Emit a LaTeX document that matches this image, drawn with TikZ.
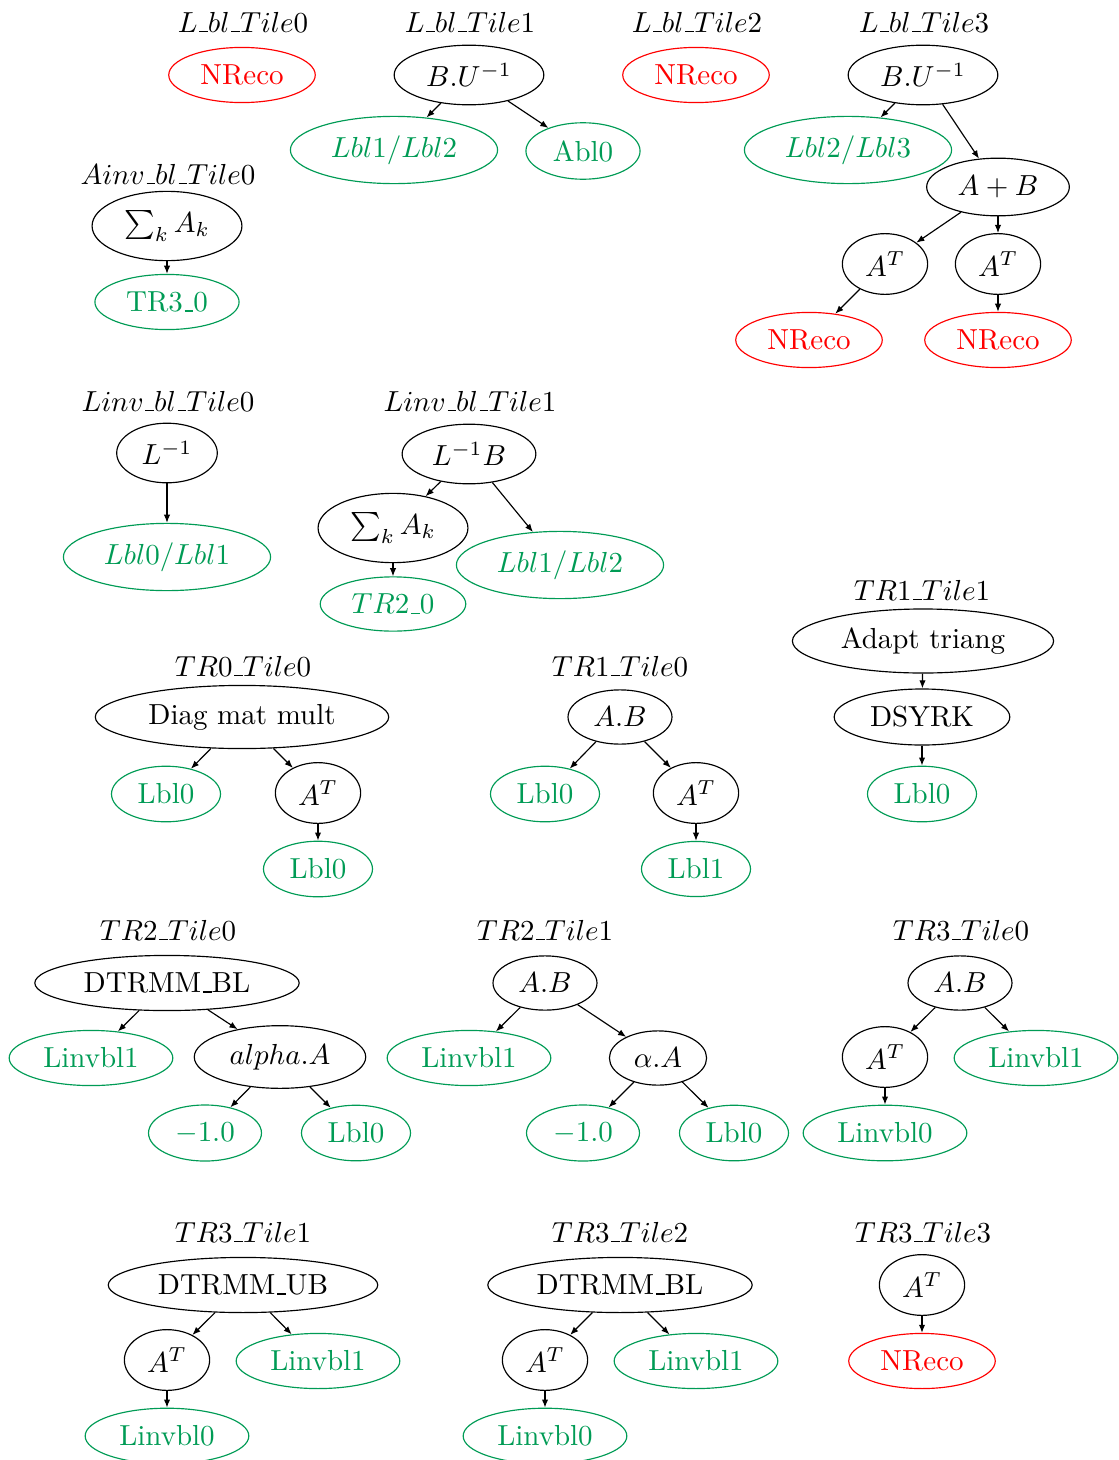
\documentclass[tikz,border=0pt]{standalone}
\usetikzlibrary{shapes.geometric,arrows.meta}
\definecolor{lbl_green}{RGB}{0,155,85}
\newcommand{\usc}{\leavevmode\kern.06em\vbox{\hrule width.3em}}
\begin{document}
\begin{tikzpicture}[
        x=0.345pt, y=-0.345pt,
        op_node/.style={draw, ellipse, inner xsep=3.5pt, inner ysep=3.2pt, minimum width=29pt, minimum height=18.6pt, line width=0.4pt},
        lbl_node/.style={op_node, draw=lbl_green, text=lbl_green},
        nreco_node/.style={op_node, draw=red, text=red},
        tile_title/.style={inner sep=1pt},
        >={Latex[length=2.8pt,width=2.2pt]}
    ]
        \useasboundingbox (0,0) rectangle (1119,1460);

        % L_bl tiles
        \node[tile_title] (t_lbl0) at (243,22) {$L\usc bl\usc Tile0$};
        \node[nreco_node] (lbl0_a) at (242,75) {NReco};

        \node[tile_title] (t_lbl1) at (470,22) {$L\usc bl\usc Tile1$};
        \node[op_node] (lbl1_a) at (469,75) {$B.U^{-1}$};
        \node[lbl_node] (lbl1_b) at (394,150) {$Lbl1/Lbl2$};
        \node[lbl_node] (lbl1_c) at (583,151) {Abl0};
        \draw[->] (lbl1_a) -- (lbl1_b);
        \draw[->] (lbl1_a) -- (lbl1_c);

        \node[tile_title] (t_lbl2) at (697,22) {$L\usc bl\usc Tile2$};
        \node[nreco_node] (lbl2_a) at (696,75) {NReco};

        \node[tile_title] (t_lbl3) at (924,22) {$L\usc bl\usc Tile3$};
        \node[op_node] (lbl3_a) at (923,75) {$B.U^{-1}$};
        \node[lbl_node] (lbl3_b) at (848,150) {$Lbl2/Lbl3$};
        \node[op_node] (lbl3_c) at (998,187) {$A+B$};
        \node[op_node] (lbl3_d) at (885,264) {$A^T$};
        \node[op_node] (lbl3_e) at (998,264) {$A^T$};
        \node[nreco_node] (lbl3_f) at (809,340) {NReco};
        \node[nreco_node] (lbl3_g) at (998,340) {NReco};
        \draw[->] (lbl3_a) -- (lbl3_b);
        \draw[->] (lbl3_a) -- (lbl3_c);
        \draw[->] (lbl3_c) -- (lbl3_d);
        \draw[->] (lbl3_c) -- (lbl3_e);
        \draw[->] (lbl3_d) -- (lbl3_f);
        \draw[->] (lbl3_e) -- (lbl3_g);

        % Ainv_bl / Linv_bl tiles
        \node[tile_title] (t_ainv0) at (168,174) {$Ainv\usc bl\usc Tile0$};
        \node[op_node] (ainv0_a) at (167,226) {$\sum_k A_k$};
        \node[lbl_node] (ainv0_b) at (167,302) {TR3\usc 0};
        \draw[->] (ainv0_a) -- (ainv0_b);

        \node[tile_title] (t_linv0) at (168,401) {$Linv\usc bl\usc Tile0$};
        \node[op_node] (linv0_a) at (167,453) {$L^{-1}$};
        \node[lbl_node] (linv0_b) at (167,557) {$Lbl0/Lbl1$};
        \draw[->] (linv0_a) -- (linv0_b);

        \node[tile_title] (t_linv1) at (470,401) {$Linv\usc bl\usc Tile1$};
        \node[op_node] (linv1_a) at (469,454) {$L^{-1}B$};
        \node[op_node] (linv1_b) at (393,528) {$\sum_k A_k$};
        \node[lbl_node] (linv1_c) at (393,604) {$TR2\usc 0$};
        \node[lbl_node] (linv1_d) at (560,565) {$Lbl1/Lbl2$};
        \draw[->] (linv1_a) -- (linv1_b);
        \draw[->] (linv1_a) -- (linv1_d);
        \draw[->] (linv1_b) -- (linv1_c);

        % TR0 / TR1 tiles
        \node[tile_title] (t_tr00) at (243,666) {$TR0\usc Tile0$};
        \node[op_node] (tr00_a) at (242,717) {Diag mat mult};
        \node[lbl_node] (tr00_b) at (166,794) {Lbl0};
        \node[op_node] (tr00_c) at (318,793) {$A^T$};
        \node[lbl_node] (tr00_d) at (318,869) {Lbl0};
        \draw[->] (tr00_a) -- (tr00_b);
        \draw[->] (tr00_a) -- (tr00_c);
        \draw[->] (tr00_c) -- (tr00_d);

        \node[tile_title] (t_tr10) at (620,666) {$TR1\usc Tile0$};
        \node[op_node] (tr10_a) at (620,717) {$A.B$};
        \node[lbl_node] (tr10_b) at (545,794) {Lbl0};
        \node[op_node] (tr10_c) at (696,793) {$A^T$};
        \node[lbl_node] (tr10_d) at (696,869) {Lbl1};
        \draw[->] (tr10_a) -- (tr10_b);
        \draw[->] (tr10_a) -- (tr10_c);
        \draw[->] (tr10_c) -- (tr10_d);

        \node[tile_title] (t_tr11) at (922,590) {$TR1\usc Tile1$};
        \node[op_node] (tr11_a) at (923,641) {Adapt triang};
        \node[op_node] (tr11_b) at (922,717) {DSYRK};
        \node[lbl_node] (tr11_c) at (922,794) {Lbl0};
        \draw[->] (tr11_a) -- (tr11_b);
        \draw[->] (tr11_b) -- (tr11_c);

        % TR2 tiles
        \node[tile_title] (t_tr20) at (168,930) {$TR2\usc Tile0$};
        \node[op_node] (tr20_a) at (167,983) {DTRMM\usc BL};
        \node[lbl_node] (tr20_b) at (91,1058) {Linvbl1};
        \node[op_node] (tr20_c) at (280,1057) {$alpha.A$};
        \node[lbl_node] (tr20_d) at (205,1133) {$-1.0$};
        \node[lbl_node] (tr20_e) at (356,1133) {Lbl0};
        \draw[->] (tr20_a) -- (tr20_b);
        \draw[->] (tr20_a) -- (tr20_c);
        \draw[->] (tr20_c) -- (tr20_d);
        \draw[->] (tr20_c) -- (tr20_e);

        \node[tile_title] (t_tr21) at (545,930) {$TR2\usc Tile1$};
        \node[op_node] (tr21_a) at (545,983) {$A.B$};
        \node[lbl_node] (tr21_b) at (469,1058) {Linvbl1};
        \node[op_node] (tr21_c) at (658,1058) {$\alpha.A$};
        \node[lbl_node] (tr21_d) at (583,1133) {$-1.0$};
        \node[lbl_node] (tr21_e) at (734,1133) {Lbl0};
        \draw[->] (tr21_a) -- (tr21_b);
        \draw[->] (tr21_a) -- (tr21_c);
        \draw[->] (tr21_c) -- (tr21_d);
        \draw[->] (tr21_c) -- (tr21_e);

        % TR3 tiles
        \node[tile_title] (t_tr30) at (961,930) {$TR3\usc Tile0$};
        \node[op_node] (tr30_a) at (960,983) {$A.B$};
        \node[op_node] (tr30_b) at (885,1057) {$A^T$};
        \node[lbl_node] (tr30_c) at (1036,1058) {Linvbl1};
        \node[lbl_node] (tr30_d) at (885,1133) {Linvbl0};
        \draw[->] (tr30_a) -- (tr30_b);
        \draw[->] (tr30_a) -- (tr30_c);
        \draw[->] (tr30_b) -- (tr30_d);

        \node[tile_title] (t_tr31) at (243,1232) {$TR3\usc Tile1$};
        \node[op_node] (tr31_a) at (243,1285) {DTRMM\usc UB};
        \node[op_node] (tr31_b) at (167,1360) {$A^T$};
        \node[lbl_node] (tr31_c) at (318,1361) {Linvbl1};
        \node[lbl_node] (tr31_d) at (167,1436) {Linvbl0};
        \draw[->] (tr31_a) -- (tr31_b);
        \draw[->] (tr31_a) -- (tr31_c);
        \draw[->] (tr31_b) -- (tr31_d);

        \node[tile_title] (t_tr32) at (620,1232) {$TR3\usc Tile2$};
        \node[op_node] (tr32_a) at (620,1285) {DTRMM\usc BL};
        \node[op_node] (tr32_b) at (545,1360) {$A^T$};
        \node[lbl_node] (tr32_c) at (696,1361) {Linvbl1};
        \node[lbl_node] (tr32_d) at (545,1436) {Linvbl0};
        \draw[->] (tr32_a) -- (tr32_b);
        \draw[->] (tr32_a) -- (tr32_c);
        \draw[->] (tr32_b) -- (tr32_d);

        \node[tile_title] (t_tr33) at (923,1232) {$TR3\usc Tile3$};
        \node[op_node] (tr33_a) at (922,1285) {$A^T$};
        \node[nreco_node] (tr33_b) at (922,1361) {NReco};
        \draw[->] (tr33_a) -- (tr33_b);
    \end{tikzpicture}
\end{document}
